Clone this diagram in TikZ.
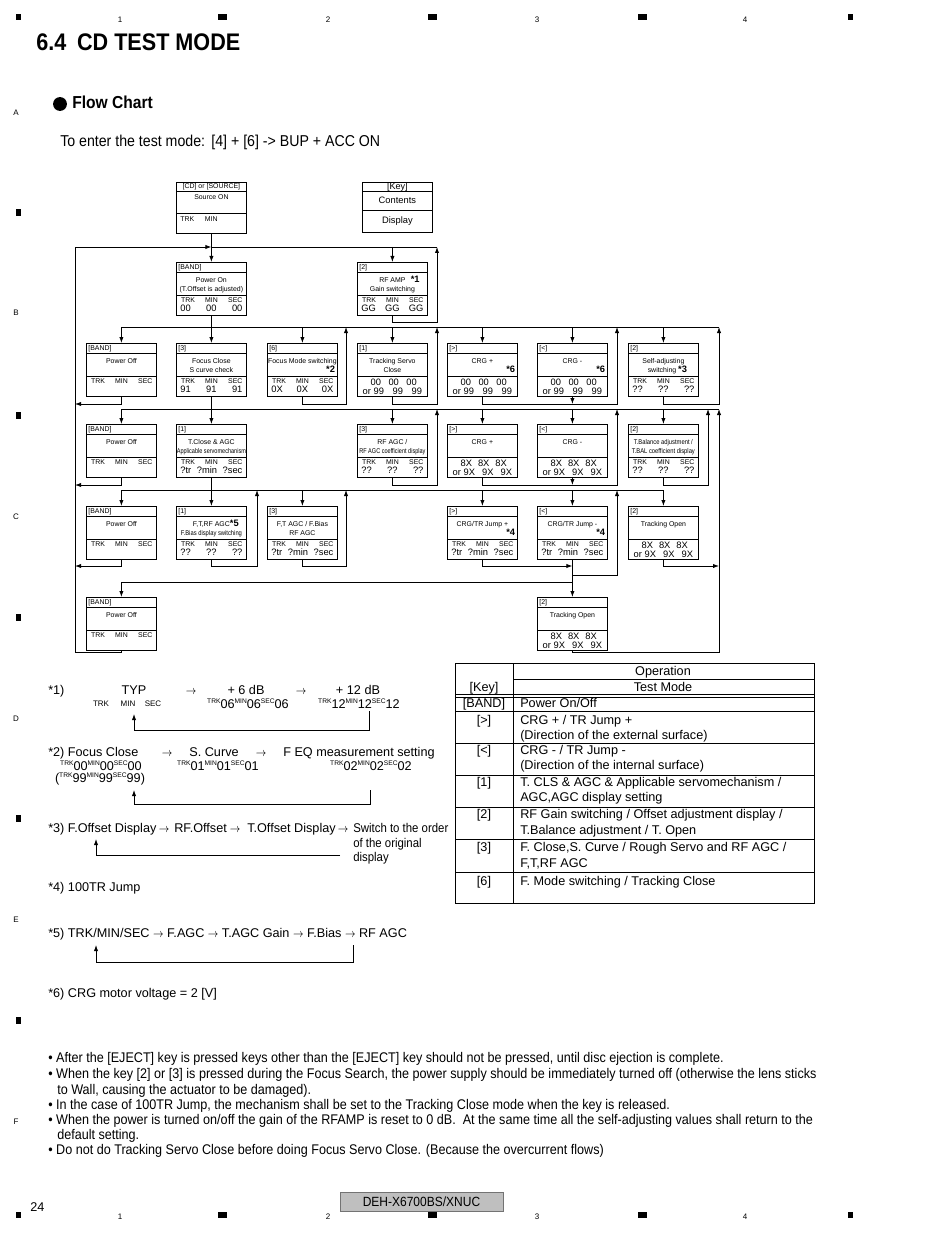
\documentclass[tikz,border=0pt]{standalone}
\usepackage{fontspec}
\setmainfont{Liberation Sans}
\newfontfamily\cond[FakeStretch=0.9]{Liberation Sans}
\usepackage{graphicx}
\usetikzlibrary{arrows.meta,shapes.multipart}

% text sizes inside the boxes
\newcommand{\ks}{\fontsize{5.2}{5.8}\selectfont}
\newcommand{\vs}{\fontsize{7}{7.5}\selectfont}
\newcommand{\sbf}{\fontsize{7}{7.5}\selectfont\bfseries}
\newcommand{\tg}[1]{\raisebox{3.6pt}{\fontsize{5}{5}\selectfont #1}}
\newcommand{\ra}{\scalebox{0.85}[1]{\ensuremath{\rightarrow}}}
% the three parts of a box
\newcommand{\hd}[1]{\parbox[c][6.75pt]{52.5pt}{\ks\hspace*{1.5pt}#1}}
\newcommand{\md}[1]{\parbox[c][16.5pt][t]{52.5pt}{\centering\ks\baselineskip=7pt \rule{0pt}{7.3pt}#1\par}}
\newcommand{\bt}[1]{\parbox[c][15pt][t]{52.5pt}{#1\par}}
\newcommand{\rnote}[1]{\makebox[49pt][r]{\sbf #1}}
\newcommand{\tmsline}{\makebox[52.5pt]{\ks\rule{0pt}{5pt}\hspace{3.5pt}TRK\hfill MIN\hfill SEC\hspace{3pt}}}
\newcommand{\tri}[3]{\makebox[52.5pt]{\vs\hspace{3pt}#1\hfill #2\hfill #3\hspace{3pt}}}
\newcommand{\tmsv}[3]{\baselineskip=7.3pt \tmsline\\\tri{#1}{#2}{#3}}
\newcommand{\orv}[2]{\baselineskip=6.8pt \makebox[52.5pt]{\vs\rule{0pt}{6.7pt}\hspace{10pt}#1\hfill #1\hfill #1\hspace{8pt}}\\\makebox[52.5pt]{\vs\hspace{4pt}or #2\hfill #2\hfill #2\hspace{4pt}}}
\newcommand{\cdbox}[5]{\node[cdbox] (#1) at (#2) {\hd{#3}\nodepart{two}\md{#4}\nodepart{three}\bt{#5}};}

\begin{document}
\begin{tikzpicture}[
    x=0.75pt, y=-0.75pt,
    cdbox/.style={rectangle split, rectangle split parts=3, draw, line width=0.6pt, inner sep=0pt, anchor=north west},
    arr/.style={-{Latex[length=4.5pt,width=3.2pt]}, line width=0.6pt},
    wire/.style={line width=0.6pt},
    note/.style={anchor=base west, inner sep=0pt, font=\fontsize{9.5}{11}\selectfont},
    bul/.style={anchor=base west, inner sep=0pt, font=\cond\fontsize{10.5}{12}\selectfont},
    lab/.style={inner sep=0pt, font=\fontsize{6}{6}\selectfont}
]
\useasboundingbox (0,0) rectangle (950,1237);

% page frame
\foreach \x in {222,432,642} {
  \fill (\x-4.5,14) rectangle (\x+4.5,20);
  \fill (\x-4.5,1212) rectangle (\x+4.5,1218);
}
\fill (16,14) rectangle (21,20);
\fill (848,14) rectangle (853,20);
\fill (16,1212) rectangle (21,1218);
\fill (848,1212) rectangle (853,1218);
\foreach \y in {213,415,617,818,1020}
  \fill (16,\y-3.5) rectangle (21,\y+3.5);
\foreach \x/\n in {120/1,328/2,537/3,745/4} {
  \node[lab] (top\n) at (\x,20) {\n};
  \node[lab] (bot\n) at (\x,1217) {\n};
}
\foreach \y/\l in {113/A,313/B,517/C,719/D,920/E,1122/F}
  \node[lab] (side\l) at (16,\y) {\l};

% headings
\node[anchor=base west, inner sep=0pt, font=\cond\bfseries\fontsize{18}{20}\selectfont] (title) at (36,51) {6.4\hspace{0.45em}CD TEST MODE};
\fill (60,104) circle[radius=5.2pt];
\node[anchor=base west, inner sep=0pt, font=\cond\bfseries\fontsize{13}{15}\selectfont] (fchart) at (72,109) {Flow Chart};
\node[anchor=base west, inner sep=0pt, font=\cond\fontsize{11.8}{13}\selectfont] (enter) at (60,147) {To enter the test mode:\hspace{0.4em}[4] + [6] -> BUP + ACC ON};

% source and key
\node[cdbox] (src) at (176,182) {\parbox[c][6pt]{52.5pt}{\centering\ks [CD] or [SOURCE]}\nodepart{two}\parbox[c][15.75pt][t]{52.5pt}{\centering\ks\rule{0pt}{6pt}Source ON}\nodepart{three}\parbox[c][15pt][t]{52.5pt}{\ks\rule{0pt}{6pt}\hspace*{3pt}TRK\hspace{8pt}MIN}};
\node[cdbox] (key) at (362,182) {\parbox[c][6pt]{52.5pt}{\centering\fontsize{6.8}{6.8}\selectfont [Key]}\nodepart{two}\parbox[c][13.5pt]{52.5pt}{\centering\fontsize{7}{7}\selectfont Contents}\nodepart{three}\parbox[c][16.5pt]{52.5pt}{\centering\fontsize{7}{7}\selectfont Display}};

% row 1
\cdbox{on}{176,262}{[BAND]}{Power On\\(T.Offset is adjusted)}{\tmsv{00}{00}{00}}
\cdbox{rfamp}{357,262}{[2]}{RF AMP\rlap{\hspace{4pt}\sbf *1}\\Gain switching}{\tmsv{GG}{GG}{GG}}
% row 2
\cdbox{off2}{86,343}{[BAND]}{Power Off}{\tmsline}
\cdbox{fclose}{176,343}{[3]}{Focus Close\\S curve check}{\tmsv{91}{91}{91}}
\cdbox{fmode}{267,343}{[6]}{Focus Mode switching\\\rnote{*2}}{\tmsv{0X}{0X}{0X}}
\cdbox{tsc}{357,343}{[1]}{Tracking Servo\\Close}{\orv{00}{99}}
\cdbox{crgp2}{447,343}{[>]}{CRG +\\\rnote{*6}}{\orv{00}{99}}
\cdbox{crgm2}{537,343}{[<]}{CRG -\\\rnote{*6}}{\orv{00}{99}}
\cdbox{sadj}{628,343}{[2]}{Self-adjusting\\\hspace*{6pt}switching {\sbf *3}}{\tmsv{??}{??}{??}}
% row 3
\cdbox{off3}{86,424}{[BAND]}{Power Off}{\tmsline}
\cdbox{tclose}{176,424}{[1]}{T.Close \& AGC\\\scalebox{0.8}[1]{Applicable servomechanism}}{\tmsv{?tr}{?min}{?sec}}
\cdbox{rfagc}{357,424}{[3]}{RF AGC /\\\scalebox{0.8}[1]{RF AGC coefficient display}}{\tmsv{??}{??}{??}}
\cdbox{crgp3}{447,424}{[>]}{CRG +}{\orv{8X}{9X}}
\cdbox{crgm3}{537,424}{[<]}{CRG -}{\orv{8X}{9X}}
\cdbox{tbal}{628,424}{[2]}{\scalebox{0.84}[1]{T.Balance adjustment /}\\\scalebox{0.84}[1]{T.BAL coefficient display}}{\tmsv{??}{??}{??}}
% row 4
\cdbox{off4}{86,506}{[BAND]}{Power Off}{\tmsline}
\cdbox{ftrf}{176,506}{[1]}{F,T,RF AGC\rlap{\sbf *5}\\\scalebox{0.84}[1]{F.Bias display switching}}{\tmsv{??}{??}{??}}
\cdbox{ftagc}{267,506}{[3]}{F,T AGC / F.Bias\\RF AGC}{\tmsv{?tr}{?min}{?sec}}
\cdbox{jumpp}{447,506}{[>]}{CRG/TR Jump +\\\rnote{*4}}{\tmsv{?tr}{?min}{?sec}}
\cdbox{jumpm}{537,506}{[<]}{CRG/TR Jump -\\\rnote{*4}}{\tmsv{?tr}{?min}{?sec}}
\cdbox{topen4}{628,506}{[2]}{Tracking Open}{\orv{8X}{9X}}
% row 5
\cdbox{off5}{86,597}{[BAND]}{Power Off}{\tmsline}
\cdbox{topen5}{537,597}{[2]}{Tracking Open}{\orv{8X}{9X}}

% bus levels and return lines
\coordinate (yA) at (0,247);
\coordinate (yB) at (0,327);
\coordinate (yC) at (0,409);
\coordinate (yD) at (0,490);
\coordinate (yE) at (0,582);
\coordinate (rA) at (0,322);
\coordinate (rB) at (0,404);
\coordinate (rC) at (0,485);
\coordinate (rD) at (0,566);
\coordinate (rJ) at (0,575);
\coordinate (rE) at (0,652);
\coordinate (xL) at (75,0);
\coordinate (xK) at (257,0);
\coordinate (xF) at (346,0);
\coordinate (xG) at (437,0);
\coordinate (xJ) at (617,0);
\coordinate (xT) at (708,0);
\coordinate (xR) at (719,0);

% row 1 connectors
\draw[arr] (src) -- (on);
\draw[wire] (on.north |- yA) -- (xG |- yA);
\draw[arr] (rfamp.north |- yA) -- (rfamp.north);
\draw[arr] (rfamp.south) |- (xG |- rA) -- (xG |- yA);
\draw[arr] (off5.south) |- (xL |- rE) -- (xL |- yA) -- (on.north |- yA);

% row 2 connectors
\draw[wire] (on.south) -- (on.south |- yB);
\draw[wire] (off2.north |- yB) -- (xR |- yB);
\foreach \b in {off2,fclose,fmode,tsc,crgp2,crgm2,sadj}
  \draw[arr] (\b.north |- yB) -- (\b.north);
\draw[arr] (off2.south) |- (xL |- rB);
\draw[arr] (fmode.south) |- (xF |- rB) -- (xF |- yB);
\draw[arr] (tsc.south) |- (xG |- rB) -- (xG |- yB);
\draw[arr] (crgp2.south) |- (xJ |- rB) -- (xJ |- yB);
\draw[arr] (crgm2.south) -- (crgm2.south |- rB);
\draw[arr] (sadj.south) |- (xR |- rB) -- (xR |- yB);

% row 3 connectors
\draw[wire] (fclose.south) -- (fclose.south |- yC);
\draw[wire] (off3.north |- yC) -- (xR |- yC);
\foreach \b in {off3,tclose,rfagc,crgp3,crgm3,tbal}
  \draw[arr] (\b.north |- yC) -- (\b.north);
\draw[arr] (off3.south) |- (xL |- rC);
\draw[arr] (rfagc.south) |- (xG |- rC) -- (xG |- yC);
\draw[arr] (crgp3.south) |- (xJ |- rC) -- (xJ |- yC);
\draw[arr] (crgm3.south) -- (crgm3.south |- rC);
\draw[arr] (tbal.south) |- (xT |- rC) -- (xT |- yC);
\draw[arr] (topen5.south) |- (xR |- rE) -- (xR |- yC);

% row 4 connectors
\draw[wire] (tclose.south) -- (tclose.south |- yD);
\draw[arr] (off4.north |- yD) -| (topen4.north);
\foreach \b in {off4,ftrf,ftagc,jumpp,jumpm}
  \draw[arr] (\b.north |- yD) -- (\b.north);
\draw[arr] (off4.south) |- (xL |- rD);
\draw[arr] (ftrf.south) |- (xK |- rD) -- (xK |- yD);
\draw[arr] (ftagc.south) |- (xF |- rD) -- (xF |- yD);
\draw[arr] (jumpp.south) |- (jumpm.south |- rD);
\draw[arr] (jumpm.south |- rJ) -| (xJ |- yD);
\draw[arr] (topen4.south) |- (xR |- rD);

% row 5 connectors
\draw[arr] (jumpm) -- (topen5);
\draw[arr] (jumpm.south |- yE) -| (off5.north);

% notes *1 .. *6
\node[note] (s1) at (48,694) {*1)};
\node[note, anchor=base] (s1a) at (134,694) {TYP};
\node[lab, anchor=base] (s1t) at (101,706) {TRK};
\node[lab, anchor=base] (s1m) at (128,706) {MIN};
\node[lab, anchor=base] (s1s) at (153,706) {SEC};
\node[note, anchor=base] (s1r1) at (191,694) {\ra};
\node[note, anchor=base] (s1b) at (246,694) {+ 6 dB};
\node[note, anchor=base] (s1bv) at (248,708) {\tg{TRK}06\tg{MIN}06\tg{SEC}06};
\node[note, anchor=base] (s1r2) at (301,694) {\ra};
\node[note, anchor=base] (s1c) at (358,694) {+ 12 dB};
\node[note, anchor=base] (s1cv) at (359,708) {\tg{TRK}12\tg{MIN}12\tg{SEC}12};
\coordinate (f1a) at (369,711);
\coordinate (f1b) at (134,714);
\draw[arr] (f1a) -- (369,730) -| (f1b);

\node[note] (s2) at (48,756) {*2) Focus Close};
\node[note, anchor=base] (s2r1) at (167,756) {\ra};
\node[note, anchor=base] (s2b) at (214,756) {S. Curve};
\node[note, anchor=base] (s2r2) at (261,756) {\ra};
\node[note] (s2c) at (283,756) {F EQ measurement setting};
\node[note, anchor=base] (s2av) at (101,770) {\tg{TRK}00\tg{MIN}00\tg{SEC}00};
\node[note, anchor=base] (s2aw) at (100,782) {(\tg{TRK}99\tg{MIN}99\tg{SEC}99)};
\node[note, anchor=base] (s2bv) at (218,770) {\tg{TRK}01\tg{MIN}01\tg{SEC}01};
\node[note, anchor=base] (s2cv) at (371,770) {\tg{TRK}02\tg{MIN}02\tg{SEC}02};
\coordinate (f2a) at (370,790);
\coordinate (f2b) at (134,790);
\draw[arr] (f2a) -- (370,804) -| (f2b);

\node[note] (s3) at (48,832) {*3) F.Offset Display};
\node[note, anchor=base] (s3r1) at (164,832) {\ra};
\node[note] (s3b) at (174,832) {RF.Offset};
\node[note, anchor=base] (s3r2) at (235,832) {\ra};
\node[note] (s3c) at (247,832) {T.Offset Display};
\node[note, anchor=base] (s3r3) at (343,832) {\ra};
\node[note, font=\cond\fontsize{9.5}{11}\selectfont] (s3d) at (353,832) {Switch to the order};
\node[note, font=\cond\fontsize{9.5}{11}\selectfont] (s3e) at (353,847) {of the original};
\node[note, font=\cond\fontsize{9.5}{11}\selectfont] (s3f) at (353,861) {display};
\coordinate (f3a) at (340,855);
\coordinate (f3b) at (96,839);
\draw[arr] (f3a) -| (f3b);

\node[note] (s4) at (48,891) {*4) 100TR Jump};
\node[note] (s5) at (48,937) {*5) TRK/MIN/SEC \ra{} F.AGC \ra{} T.AGC Gain \ra{} F.Bias \ra{} RF AGC};
\coordinate (f5a) at (353,945);
\coordinate (f5b) at (96,945);
\draw[arr] (f5a) -- (353,962) -| (f5b);
\node[note] (s6) at (48,997) {*6) CRG motor voltage = 2 [V]};

% key table
\draw[wire] (455,663) rectangle (814,903);
\draw[wire] (513,663) -- (513,903);
\draw[wire] (513,679) -- (814,679);
\draw[wire] (455,694) -- (814,694);
\draw[wire] (455,697) -- (814,697);
\foreach \y in {711,743,775,807,839,872}
  \draw[wire] (455,\y) -- (814,\y);
\node[note, anchor=base] (opr) at (663,675) {Operation};
\node[note, anchor=base] (keyh) at (484,691) {[Key]};
\node[note, anchor=base] (tmode) at (663,691) {Test Mode};
\node[note, anchor=base] (kband) at (484,707) {[BAND]};
\node[note] (oband) at (520,707) {Power On/Off};
\node[note, anchor=base] (kfwd) at (484,724) {[>]};
\node[note] (ofwda) at (520,724) {CRG + / TR Jump +};
\node[note] (ofwdb) at (520,739) {(Direction of the external surface)};
\node[note, anchor=base] (kbck) at (484,754) {[<]};
\node[note] (obcka) at (520,754) {CRG - / TR Jump -};
\node[note] (obckb) at (520,769) {(Direction of the internal surface)};
\node[note, anchor=base] (kone) at (484,786) {[1]};
\node[note] (oonea) at (520,786) {T. CLS \& AGC \& Applicable servomechanism /};
\node[note] (ooneb) at (520,801) {AGC,AGC display setting};
\node[note, anchor=base] (ktwo) at (484,818) {[2]};
\node[note] (otwoa) at (520,818) {RF Gain switching / Offset adjustment display /};
\node[note] (otwob) at (520,834) {T.Balance adjustment / T. Open};
\node[note, anchor=base] (kthr) at (484,851) {[3]};
\node[note] (othra) at (520,851) {F. Close,S. Curve / Rough Servo and RF AGC /};
\node[note] (othrb) at (520,867) {F,T,RF AGC};
\node[note, anchor=base] (ksix) at (484,885) {[6]};
\node[note] (osix) at (520,885) {F. Mode switching / Tracking Close};

% cautions
\node[bul] (c1) at (48,1062) {• After the [EJECT] key is pressed keys other than the [EJECT] key should not be pressed, until disc ejection is complete.};
\node[bul] (c2) at (48,1078) {• When the key [2] or [3] is pressed during the Focus Search, the power supply should be immediately turned off (otherwise the lens sticks};
\node[bul] (c2b) at (57,1094) {to Wall, causing the actuator to be damaged).};
\node[bul] (c3) at (48,1109) {• In the case of 100TR Jump, the mechanism shall be set to the Tracking Close mode when the key is released.};
\node[bul] (c4) at (48,1124) {• When the power is turned on/off the gain of the RFAMP is reset to 0 dB.\hspace{0.5em}At the same time all the self-adjusting values shall return to the};
\node[bul] (c4b) at (57,1139) {default setting.};
\node[bul] (c5) at (48,1154) {• Do not do Tracking Servo Close before doing Focus Servo Close. (Because the overcurrent flows)};

% footer
\node[anchor=base west, inner sep=0pt, font=\fontsize{9.5}{10}\selectfont] (page) at (30,1211) {24};
\node[draw=black!55, fill=black!25, line width=0.5pt, minimum width=122pt, minimum height=14pt, inner sep=0pt, font=\cond\fontsize{10}{11}\selectfont] (model) at (421.5,1201.5) {DEH-X6700BS/XNUC};
\end{tikzpicture}
\end{document}
